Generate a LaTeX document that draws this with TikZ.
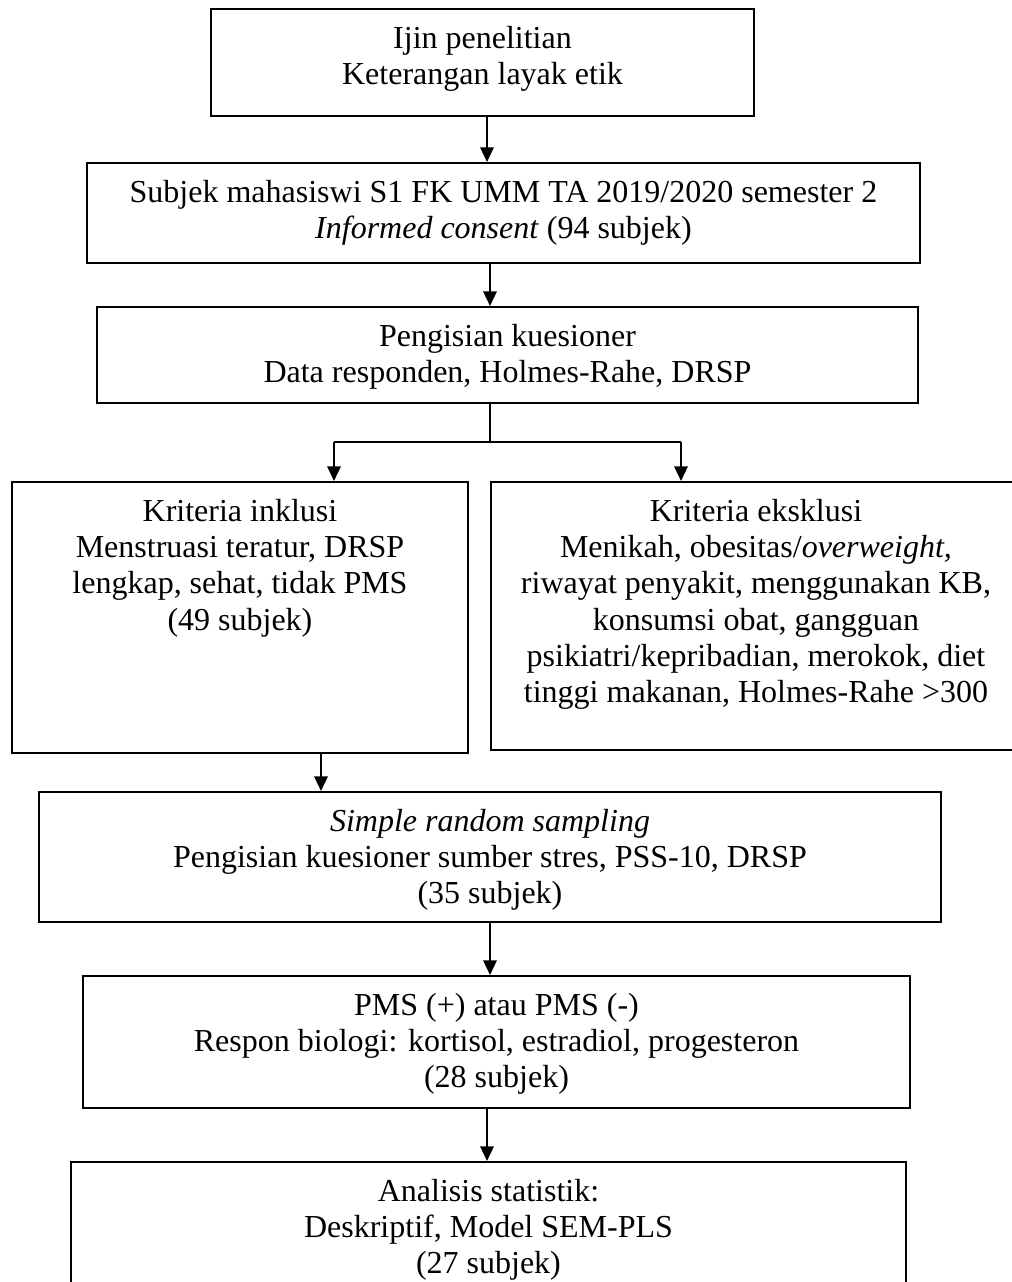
\documentclass[tikz,border=0pt]{standalone}
\usepackage{fontspec}
\setmainfont{Liberation Serif}
\usetikzlibrary{arrows.meta,calc}
\begin{document}
\begin{tikzpicture}[x=0.75pt,y=-0.75pt,
  box/.style={draw, line width=1.5pt, inner sep=0pt, rectangle},
  txt/.style={anchor=north, yshift=-8pt, align=center, inner sep=0pt,
              font=\fontsize{24}{27.2}\selectfont},
  link/.style={line width=1.5pt},
  arr/.style={line width=1.8pt, -{Triangle[length=11pt,width=10pt]}}]
\newcommand{\fst}{\rule{0pt}{22pt}}
\useasboundingbox (0,0) rectangle (1012,1282);
\clip (0,0) rectangle (1012,1282);

% columns used by the vertical connectors
\coordinate (c1) at (487,0);
\coordinate (c2) at (490,0);

% boxes
\node[box, minimum width={543*0.75pt}, minimum height={107*0.75pt}] (b1) at (482.5,62.5) {};
\node[box, minimum width={833*0.75pt}, minimum height={100*0.75pt}] (b2) at (503.5,213) {};
\node[box, minimum width={821*0.75pt}, minimum height={96*0.75pt}]  (b3) at (507.5,355) {};
\node[box, minimum width={456*0.75pt}, minimum height={271*0.75pt}] (inc) at (240,617.5) {};
\node[box, minimum width={530*0.75pt}, minimum height={268*0.75pt}] (exc) at (756,616) {};
\node[box, minimum width={902*0.75pt}, minimum height={130*0.75pt}] (b5) at (490,857) {};
\node[box, minimum width={827*0.75pt}, minimum height={132*0.75pt}] (b6) at (496.5,1042) {};
\node[box, minimum width={835*0.75pt}, minimum height={136*0.75pt}] (b7) at (488.5,1230) {};

% box texts
\node[txt] (t1) at (b1.north) {\fst Ijin penelitian\\Keterangan layak etik};
\node[txt] (t2) at (b2.north) {\fst Subjek mahasiswi S1 FK UMM TA 2019/2020 semester 2\\\textit{Informed consent} (94 subjek)};
\node[txt] (t3) at (b3.north) {\fst Pengisian kuesioner\\Data responden, Holmes-Rahe, DRSP};
\node[txt] (tinc) at (inc.north) {\fst Kriteria inklusi\\Menstruasi teratur, DRSP\\lengkap, sehat, tidak PMS\\(49 subjek)};
\node[txt] (texc) at (exc.north) {\fst Kriteria eksklusi\\Menikah, obesitas/\textit{overweight,}\\riwayat penyakit, menggunakan KB,\\konsumsi obat, gangguan\\psikiatri/kepribadian, merokok, diet\\tinggi makanan, Holmes-Rahe >300};
\node[txt] (t5) at (b5.north) {\fst\textit{Simple random sampling}\\Pengisian kuesioner sumber stres, PSS-10, DRSP\\(35 subjek)};
\node[txt] (t6) at (b6.north) {\fst PMS (+) atau PMS (-)\\Respon biologi: kortisol, estradiol, progesteron\\(28 subjek)};
\node[txt] (t7) at (b7.north) {\fst Analisis statistik:\\Deskriptif, Model SEM-PLS\\(27 subjek)};

% connectors
\draw[arr] (b1.south -| c1) -- (b2.north -| c1);
\draw[arr] (b2.south -| c2) -- (b3.north -| c2);

\coordinate (split) at (490,442);
\coordinate (splitL) at (334,442);
\coordinate (splitR) at (681,442);
\draw[link] (b3.south -| split) -- (split);
\draw[link] (splitL) -- (splitR);
\draw[arr] (splitL) -- (inc.north -| splitL);
\draw[arr] (splitR) -- (exc.north -| splitR);

\coordinate (c3) at (321,0);
\draw[arr] (inc.south -| c3) -- (b5.north -| c3);
\draw[arr] (b5.south -| c2) -- (b6.north -| c2);
\draw[arr] (b6.south -| c1) -- (b7.north -| c1);
\end{tikzpicture}
\end{document}
